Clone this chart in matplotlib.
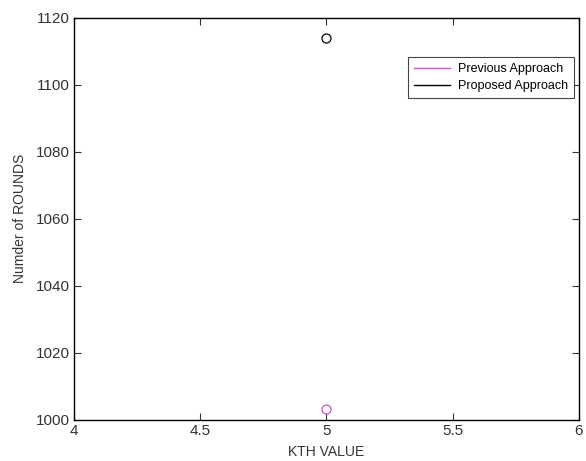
import matplotlib
matplotlib.use('Agg')
import matplotlib.pyplot as plt
from matplotlib.lines import Line2D

plt.rcParams['font.family'] = ['Liberation Sans', 'DejaVu Sans']

# data
kth = [5]
rounds_previous = [1003]
rounds_proposed = [1114]
xticks = [4, 4.5, 5, 5.5, 6]
yticks = [1000, 1020, 1040, 1060, 1080, 1100, 1120]

prev_color = '#cc55cc'

fig = plt.figure(figsize=(5.86, 4.61), dpi=100)
ax = fig.add_axes([0.126, 0.09, 0.862, 0.872])

ax.plot(kth, rounds_previous, marker='o', markersize=6.5, markerfacecolor='none',
        markeredgewidth=0.9, color=prev_color, linewidth=1)
ax.plot(kth, rounds_proposed, marker='o', markersize=6.5, markerfacecolor='none',
        markeredgewidth=0.9, color='black', linewidth=1)

ax.set_xlim(4, 6)
ax.set_ylim(1000, 1120)
ax.set_xticks(xticks)
ax.set_xticklabels(['4', '4.5', '5', '5.5', '6'])
ax.set_yticks(yticks)
ax.tick_params(direction='in', top=True, right=True, length=5, labelsize=11,
               colors='#333333', pad=3)
for s in ax.spines.values():
    s.set_linewidth(1)
ax.set_xlabel('KTH VALUE', fontsize=10, labelpad=5, color='#333333')
ax.set_ylabel('Numder of ROUNDS', fontsize=10, labelpad=6, color='#333333')

# legend shows plain lines, like the MATLAB one
handles = [Line2D([], [], color=prev_color, lw=1), Line2D([], [], color='black', lw=1)]
leg = ax.legend(handles, ['Previous Approach', 'Proposed Approach'],
                loc='upper right', bbox_to_anchor=(0.990, 0.902), fontsize=9,
                fancybox=False, framealpha=1, edgecolor='#444444',
                handlelength=2.9, borderpad=0.5, labelspacing=0.4, handletextpad=0.6,
                borderaxespad=0)
leg.get_frame().set_linewidth(0.8)

fig.savefig('out.png', dpi=100)
